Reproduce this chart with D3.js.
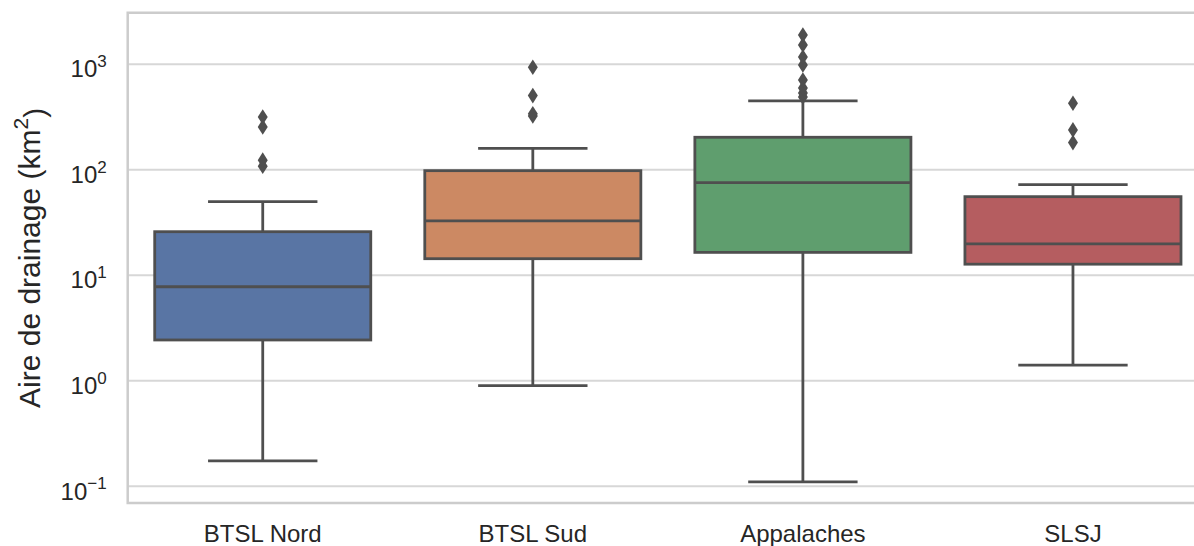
<!DOCTYPE html>
<html>
<head>
<meta charset="utf-8">
<script src="https://cdn.jsdelivr.net/npm/d3@7"></script>
<style>
  body { margin: 0; background: #ffffff; overflow: hidden; }
  svg { display: block; overflow: hidden; font-family: "Liberation Sans", Arial, sans-serif; }
  .grid line { stroke: #d7d7d7; stroke-width: 2; }
  .grid path { display: none; }
</style>
</head>
<body>
<div class="chart"></div>
<script>
// data (km2)
var regions = ["BTSL Nord", "BTSL Sud", "Appalaches", "SLSJ"];
var whiskerLow = [0.172, 0.889, 0.109, 1.39];
var q1 = [2.41, 14.2, 16.3, 12.6];
var medians = [7.7, 32.4, 74.6, 19.6];
var q3 = [25.6, 97, 201, 55];
var whiskerHigh = [49.3, 158, 444, 71.4];
var outliers = [
  [107, 122, 252, 313],
  [320, 335, 499, 926],
  [484, 529, 590, 701, 974, 1159, 1507, 1875],
  [179, 236, 422]
];
var yTicks = [0.1, 1, 10, 100, 1000];
var yTickExp = ["\u22121", "0", "1", "2", "3"];

var colors = ["#5975a4", "#cc8963", "#5f9e6e", "#b55d60"];
var lineCol = "#4f4f4f";

var W = 1194, H = 546;
var margin = {top: 12.8, left: 127.7, right: -14, bottom: 43};
var w = W - margin.left - margin.right;
var h = H - margin.top - margin.bottom;

var svg = d3.select(".chart")
            .append("svg")
            .attr("width", W)
            .attr("height", H);

var xScale = d3.scaleBand()
               .domain(regions)
               .range([0, w]);
var yScale = d3.scaleLog()
               .domain([0.0687, 3040])
               .range([h, 0]);

var g = svg.append("g")
           .attr("transform", "translate(" + margin.left + "," + margin.top + ")");

// grid
g.append("g")
 .attr("class", "grid")
 .call(d3.axisLeft(yScale).tickValues(yTicks).tickSize(-w).tickFormat(""));

// spines (right one falls outside the picture)
g.append("path")
 .attr("d", "M" + w + ",0H0V" + h + "H" + w)
 .attr("fill", "none")
 .attr("stroke", "#cccccc")
 .attr("stroke-width", 2.5);

// y tick labels with superscripts
var yAxis = g.append("g")
             .call(d3.axisLeft(yScale).tickValues(yTicks).tickSize(0).tickPadding(21).tickFormat(""));
yAxis.select(".domain").remove();
yAxis.selectAll(".tick text")
     .attr("fill", "#262626")
     .style("font-size", "24px")
     .attr("dy", "0.55em")
     .each(function(d, i){
       var t = d3.select(this);
       t.append("tspan").text("10");
       t.append("tspan")
        .attr("dy", "-0.6em")
        .style("font-size", "17px")
        .text(yTickExp[i]);
     });

// x tick labels
var xAxis = g.append("g")
             .attr("transform", "translate(0," + h + ")")
             .call(d3.axisBottom(xScale).tickSize(0).tickPadding(22));
xAxis.select(".domain").remove();
xAxis.selectAll(".tick text")
     .attr("fill", "#262626")
     .style("font-size", "24px");

// boxes
var bw = xScale.bandwidth();
var boxW = bw * 0.8;
var capW = bw * 0.405;
var cx = function(i){ return xScale(regions[i]) + bw / 2; };

var boxes = g.selectAll(".box")
             .data(regions)
             .enter()
             .append("g")
             .attr("class", "box");

// whiskers
boxes.append("line")
     .attr("x1", function(d, i){ return cx(i); })
     .attr("x2", function(d, i){ return cx(i); })
     .attr("y1", function(d, i){ return yScale(q1[i]); })
     .attr("y2", function(d, i){ return yScale(whiskerLow[i]); })
     .attr("stroke", lineCol).attr("stroke-width", 2.8);
boxes.append("line")
     .attr("x1", function(d, i){ return cx(i); })
     .attr("x2", function(d, i){ return cx(i); })
     .attr("y1", function(d, i){ return yScale(q3[i]); })
     .attr("y2", function(d, i){ return yScale(whiskerHigh[i]); })
     .attr("stroke", lineCol).attr("stroke-width", 2.8);
// caps
boxes.append("line")
     .attr("x1", function(d, i){ return cx(i) - capW / 2; })
     .attr("x2", function(d, i){ return cx(i) + capW / 2; })
     .attr("y1", function(d, i){ return yScale(whiskerLow[i]); })
     .attr("y2", function(d, i){ return yScale(whiskerLow[i]); })
     .attr("stroke", lineCol).attr("stroke-width", 2.8);
boxes.append("line")
     .attr("x1", function(d, i){ return cx(i) - capW / 2; })
     .attr("x2", function(d, i){ return cx(i) + capW / 2; })
     .attr("y1", function(d, i){ return yScale(whiskerHigh[i]); })
     .attr("y2", function(d, i){ return yScale(whiskerHigh[i]); })
     .attr("stroke", lineCol).attr("stroke-width", 2.8);
// box
boxes.append("rect")
     .attr("x", function(d, i){ return cx(i) - boxW / 2; })
     .attr("y", function(d, i){ return yScale(q3[i]); })
     .attr("width", boxW)
     .attr("height", function(d, i){ return yScale(q1[i]) - yScale(q3[i]); })
     .attr("fill", function(d, i){ return colors[i]; })
     .attr("stroke", lineCol).attr("stroke-width", 2.8);
// median
boxes.append("line")
     .attr("x1", function(d, i){ return cx(i) - boxW / 2; })
     .attr("x2", function(d, i){ return cx(i) + boxW / 2; })
     .attr("y1", function(d, i){ return yScale(medians[i]); })
     .attr("y2", function(d, i){ return yScale(medians[i]); })
     .attr("stroke", lineCol).attr("stroke-width", 2.8);

// outliers (thin diamonds)
boxes.each(function(d, i){
  d3.select(this).selectAll("path")
    .data(outliers[i])
    .enter()
    .append("path")
    .attr("d", "M0,-7.8L5,0L0,7.8L-5,0Z")
    .attr("transform", function(v){ return "translate(" + cx(i) + "," + yScale(v) + ")"; })
    .attr("fill", lineCol);
});

// y label
var ylab = svg.append("text")
              .attr("transform", "translate(40," + (margin.top + h / 2) + ") rotate(-90)")
              .attr("text-anchor", "middle")
              .attr("fill", "#262626")
              .style("font-size", "30px");
ylab.append("tspan").text("Aire de drainage (km");
ylab.append("tspan").attr("dy", "-0.55em").style("font-size", "21px").text("2");
ylab.append("tspan").attr("dy", "0.55em").text(")");
</script>
</body>
</html>
